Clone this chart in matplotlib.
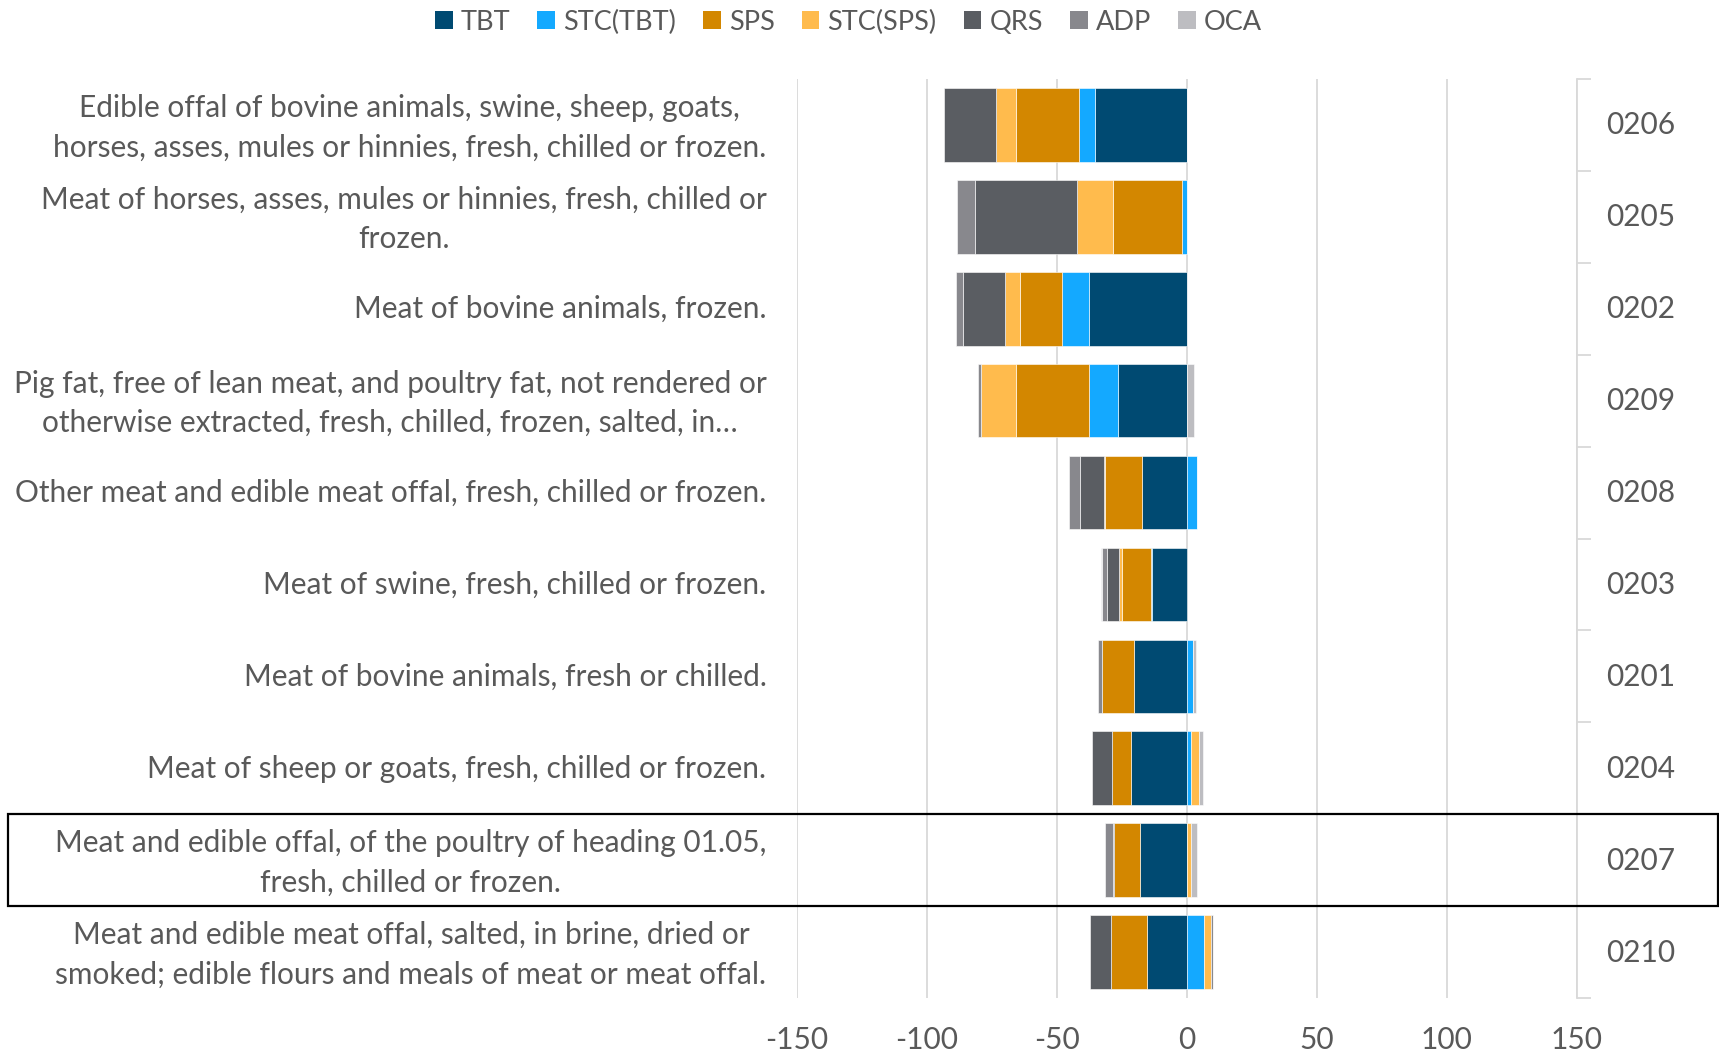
import matplotlib
matplotlib.use("Agg")
import matplotlib.pyplot as plt
import matplotlib.transforms as mtrans
from matplotlib.patches import Rectangle, Patch
import numpy as np

codes = ["0206", "0205", "0202", "0209", "0208", "0203", "0201", "0204", "0207", "0210"]
descriptions = [
    "Edible offal of bovine animals, swine, sheep, goats,\nhorses, asses, mules or hinnies, fresh, chilled or frozen.",
    "Meat of horses, asses, mules or hinnies, fresh, chilled or\nfrozen.",
    "Meat of bovine animals, frozen.",
    "Pig fat, free of lean meat, and poultry fat, not rendered or\notherwise extracted, fresh, chilled, frozen, salted, in…",
    "Other meat and edible meat offal, fresh, chilled or frozen.",
    "Meat of swine, fresh, chilled or frozen.",
    "Meat of bovine animals, fresh or chilled.",
    "Meat of sheep or goats, fresh, chilled or frozen.",
    "Meat and edible offal, of the poultry of heading 01.05,\nfresh, chilled or frozen.",
    "Meat and edible meat offal, salted, in brine, dried or\nsmoked; edible flours and meals of meat or meat offal.",
]
series_names = ["TBT", "STC(TBT)", "SPS", "STC(SPS)", "QRS", "ADP", "OCA"]
tbt      = [-35.3, 0.0, -37.5, -26.6, -17.1, -13.3, -20.3, -21.5, -17.9, -15.2]
stc_tbt  = [-6.0, -1.9, -10.4, -11.2, 4.1, -0.4, 2.3, 1.7, 0.0, 6.7]
sps      = [-24.6, -26.5, -16.1, -28.1, -14.4, -11.2, -12.5, -7.2, -10.0, -13.9]
stc_sps  = [-7.5, -13.8, -5.8, -13.3, -0.4, -1.0, 0.0, 3.2, 1.7, 2.7]
qrs      = [-20.2, -39.3, -16.3, 0.0, -9.3, -4.9, 0.0, -7.6, -0.6, -8.2]
adp      = [0.0, -6.9, -2.6, -1.3, -4.2, -1.8, -1.2, 0.0, -3.0, 0.6]
oca      = [0.0, 0.0, 0.0, 2.6, 0.0, -0.5, 1.2, 1.3, 2.1, 0.0]
series_values = [tbt, stc_tbt, sps, stc_sps, qrs, adp, oca]
colors = ["#004A72", "#14A9FF", "#D38700", "#FFBB4D", "#5A5D62", "#88888D", "#BDBDC1"]
x_ticks = [-150, -100, -50, 0, 50, 100, 150]

FONT = ["Lato", "DejaVu Sans"]
TXT = "#595959"
GRID = "#D9D9D9"
FS = 21.5
plt.rcParams["font.family"] = FONT

fig = plt.figure(figsize=(17.19, 10.51), dpi=100)
ax = fig.add_axes([797 / 1719, 1 - 998 / 1051, (1576.5 - 797) / 1719, (998 - 79) / 1051])

y = np.arange(len(codes))
neg = np.zeros(len(codes))
pos = np.zeros(len(codes))
for name, vals, col in zip(series_names, series_values, colors):
    v = np.array(vals, dtype=float)
    left = np.where(v < 0, neg, pos)
    ax.barh(y, v, left=left, height=0.8, color=col, edgecolor="white", linewidth=0.4, zorder=3)
    neg = neg + np.where(v < 0, v, 0)
    pos = pos + np.where(v > 0, v, 0)

ax.set_xlim(-150, 150)
ax.set_ylim(len(codes) - 0.5, -0.5)
ax.set_xticks(x_ticks)
ax.set_xticklabels([str(t) for t in x_ticks])
ax.grid(axis="x", color=GRID, linewidth=1.3, zorder=0)
ax.set_axisbelow(True)
for s in ax.spines.values():
    s.set_visible(False)
ax.tick_params(axis="x", length=0, pad=20, labelsize=FS, labelcolor=TXT)
ax.set_yticks(y)
ax.set_yticklabels(descriptions, ha="right", multialignment="center")
ax.tick_params(axis="y", length=0, pad=22, labelsize=FS, labelcolor=TXT)
for lbl in ax.get_yticklabels():
    lbl.set_linespacing(1.5)
    dy = 5.5 if "\n" in lbl.get_text() else 2.0
    lbl.set_transform(lbl.get_transform() + mtrans.ScaledTranslation(0, dy / 100, fig.dpi_scale_trans))

ax2 = ax.twinx()
ax2.set_ylim(ax.get_ylim())
ax2.set_yticks(y)
ax2.set_yticklabels(codes)
ax2.set_yticks(np.arange(-0.5, len(codes), 1.0), minor=True)
ax2.tick_params(axis="y", which="major", length=0, pad=21, labelsize=FS, labelcolor=TXT)
ax2.tick_params(axis="y", which="minor", length=10, width=1.3, color=GRID, direction="out")
for lbl in ax2.get_yticklabels():
    lbl.set_transform(lbl.get_transform() + mtrans.ScaledTranslation(0, 2.0 / 100, fig.dpi_scale_trans))
for k in ["top", "left", "bottom"]:
    ax2.spines[k].set_visible(False)
ax2.spines["right"].set_color(GRID)
ax2.spines["right"].set_linewidth(1.3)

# highlight box around 0207 row
idx = codes.index("0207")
trans = mtrans.blended_transform_factory(fig.transFigure, ax.transData)
rect = Rectangle((7.7 / 1719, idx - 0.5), (1718 - 7.7) / 1719, 1.0, transform=trans,
                 fill=False, edgecolor="black", linewidth=1.6, clip_on=False, zorder=10)
fig.add_artist(rect)

handles = [Patch(facecolor=c, edgecolor="none") for c in colors]
fig.legend(handles, series_names, loc="center", bbox_to_anchor=(774 * 1719 / 1568 / 1719, 1 - 22 / 1051),
           ncol=7, frameon=False, fontsize=19.5, labelcolor=TXT, handlelength=0.65,
           handleheight=0.65, handletextpad=0.3, columnspacing=1.0)

fig.savefig("out.png", dpi=100)
